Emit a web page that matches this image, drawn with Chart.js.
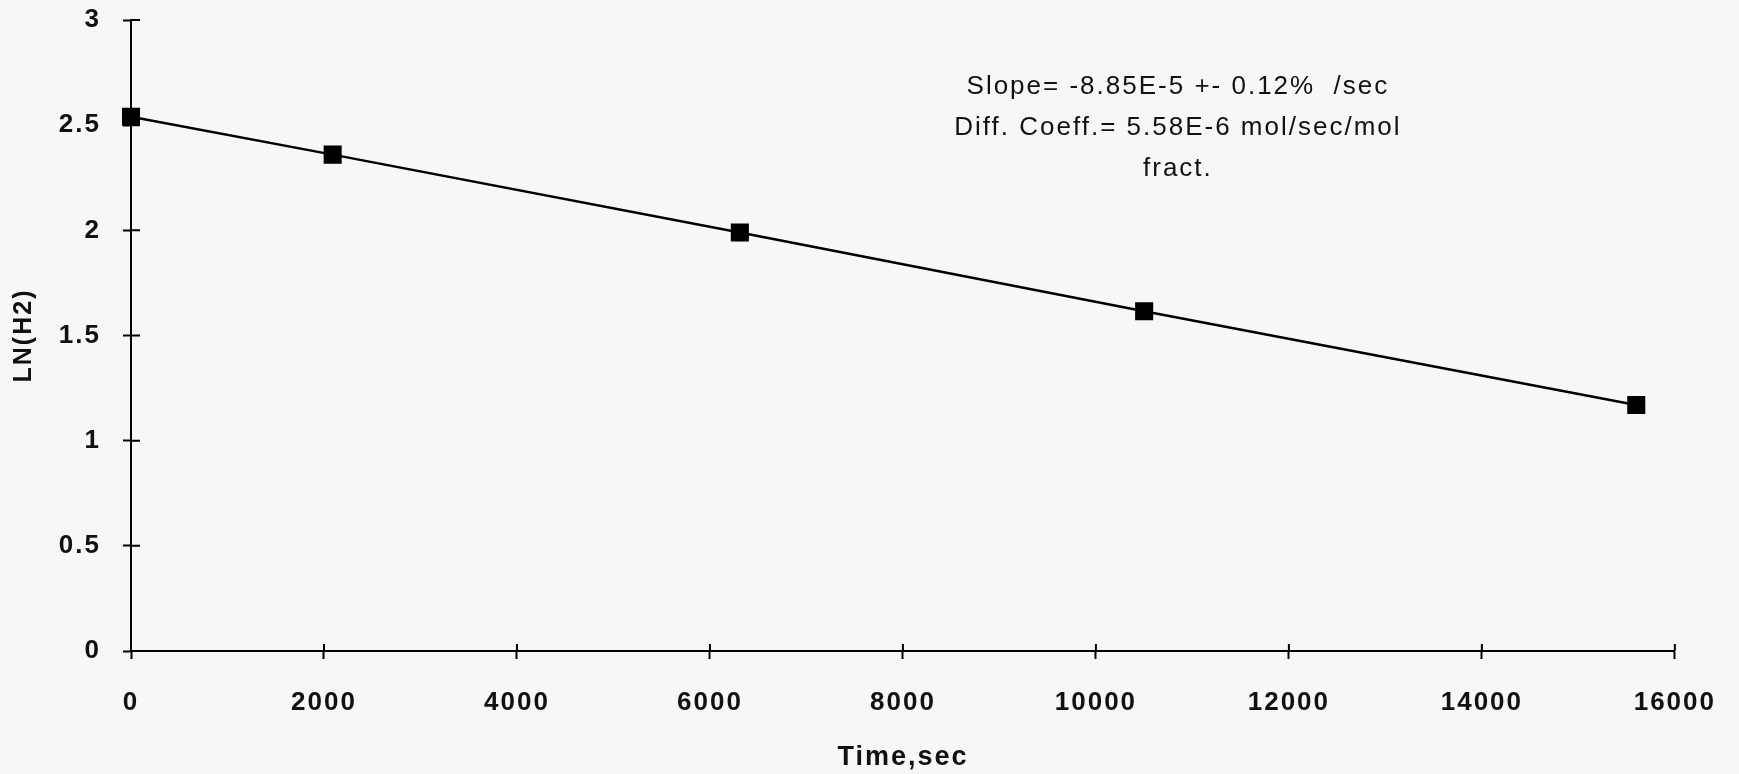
<!DOCTYPE html>
<html>
<head>
<meta charset="utf-8">
<script src="https://cdn.jsdelivr.net/npm/chart.js@4/dist/chart.umd.min.js"></script>
<style>
  html, body { margin: 0; padding: 0; background: #f7f7f7; }
  #chart { width: 1739px; height: 774px; position: relative; }
</style>
</head>
<body>
<div id="chart"><canvas id="c"></canvas></div>
<script>
// elapsed time, seconds
const timeSec = [0, 2090, 6310, 10500, 15600];
// ln of the H2 reading at each time
const lnH2 = [2.54, 2.36, 1.99, 1.615, 1.17];

const xTickStep = 2000;
const yTickStep = 0.5;

const fitNote = [
  "Slope= -8.85E-5 +- 0.12%  /sec",
  "Diff. Coeff.= 5.58E-6 mol/sec/mol",
  "fract."
];

const FONT = "'Liberation Sans', Arial, Helvetica, sans-serif";

// ticks in the old plot cross the axis, chart.js only draws the outer half
const crossTicks = {
  id: "crossTicks",
  afterDraw(chart) {
    const ctx = chart.ctx;
    const area = chart.chartArea;
    const xs = chart.scales.x, ys = chart.scales.y;
    ctx.save();
    ctx.strokeStyle = "#000";
    ctx.lineWidth = 2;
    ctx.beginPath();
    xs.ticks.forEach(t => {
      const px = xs.getPixelForValue(t.value);
      ctx.moveTo(px, area.bottom);
      ctx.lineTo(px, area.bottom - 7);
    });
    ys.ticks.forEach(t => {
      const py = ys.getPixelForValue(t.value);
      ctx.moveTo(area.left, py);
      ctx.lineTo(area.left + 9, py);
    });
    ctx.stroke();
    ctx.restore();
  }
};

// fit result written in the upper right
const fitText = {
  id: "fitText",
  afterDraw(chart) {
    const ctx = chart.ctx;
    ctx.save();
    ctx.fillStyle = "#111";
    ctx.font = "26px " + FONT;
    ctx.textAlign = "center";
    ctx.textBaseline = "middle";
    const cx = chart.scales.x.getPixelForValue(10850);
    fitNote.forEach((line, i) => {
      ctx.fillText(line, cx, 87 + i * 41);
    });
    ctx.restore();
  }
};

// wider type like the scan
const spacing = {
  id: "spacing",
  beforeDraw(chart) {
    chart.ctx.letterSpacing = "2px";
  }
};

const plain = v => String(v);

new Chart(document.getElementById("c"), {
  type: "line",
  data: {
    datasets: [{
      data: timeSec.map((t, i) => ({ x: t, y: lnH2[i] })),
      borderColor: "#000",
      borderWidth: 2.5,
      backgroundColor: "#000",
      pointStyle: "rect",
      pointRadius: 11,
      pointHoverRadius: 11,
      tension: 0,
      clip: false
    }]
  },
  options: {
    responsive: true,
    maintainAspectRatio: false,
    animation: false,
    events: [],
    layout: { padding: { left: 0, right: 64, top: 20, bottom: 0 } },
    plugins: {
      legend: { display: false },
      tooltip: { enabled: false }
    },
    scales: {
      x: {
        type: "linear",
        min: 0,
        max: 16000,
        afterFit(scale) { scale.height = 123; },
        border: { color: "#000", width: 2 },
        grid: {
          drawOnChartArea: false,
          drawTicks: true,
          tickLength: 8,
          tickWidth: 2,
          tickColor: "#000"
        },
        ticks: {
          stepSize: xTickStep,
          color: "#111",
          padding: 28,
          maxRotation: 0,
          callback: plain,
          font: { family: FONT, size: 26, weight: "bold" }
        },
        title: {
          display: true,
          text: "Time,sec",
          color: "#111",
          padding: { top: 0, bottom: 0 },
          font: { family: FONT, size: 27, weight: "bold" }
        }
      },
      y: {
        min: 0,
        max: 3,
        afterFit(scale) {
          scale.width = 131;
          // tick padding otherwise pushes the plot top down
          scale.paddingTop = 0;
          scale.paddingBottom = 0;
        },
        border: { color: "#000", width: 2 },
        grid: {
          drawOnChartArea: false,
          drawTicks: true,
          tickLength: 8,
          tickWidth: 2,
          tickColor: "#000"
        },
        ticks: {
          stepSize: yTickStep,
          color: "#111",
          padding: 22,
          callback: plain,
          font: { family: FONT, size: 26, weight: "bold" }
        },
        title: {
          display: true,
          text: "LN(H2)",
          color: "#111",
          padding: { top: 9, bottom: 0 },
          font: { family: FONT, size: 25, weight: "bold" }
        }
      }
    }
  },
  plugins: [spacing, crossTicks, fitText]
});
</script>
</body>
</html>
